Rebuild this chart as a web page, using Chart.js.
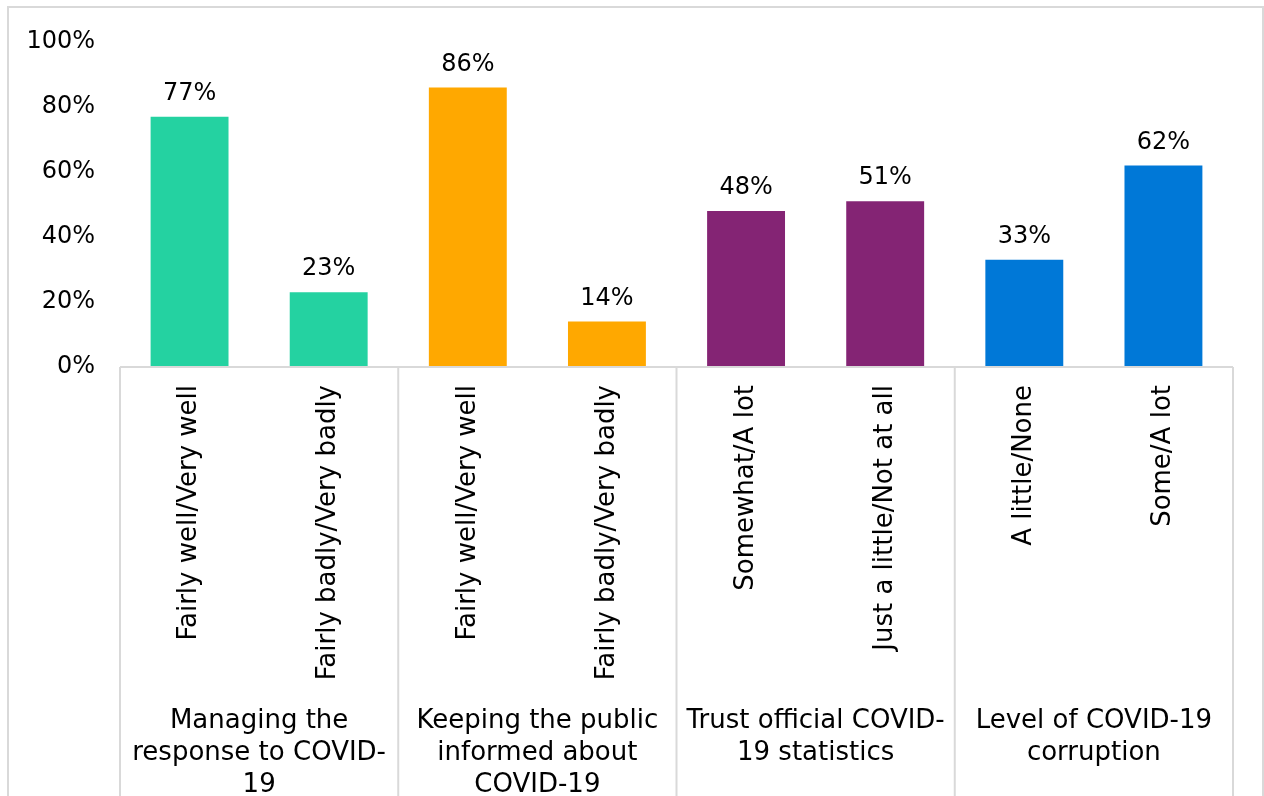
<!DOCTYPE html>
<html>
<head>
<meta charset="utf-8">
<script src="https://cdn.jsdelivr.net/npm/chart.js@4.4.1/dist/chart.umd.min.js"></script>
<style>
html, body { margin: 0; padding: 0; overflow: hidden; background: #fff; }
#frame { position: absolute; left: 7px; top: 6px; width: 1257px; height: 900px; border: 2px solid #d9d9d9; box-sizing: border-box; }
#wrap { position: absolute; left: 0; top: 0; }
</style>
</head>
<body>
<div id="frame"></div>
<div id="wrap"><canvas id="barChart" width="1264" height="830"></canvas></div>
<script>
// answer categories (one bar each)
var categories = [
    'Fairly well/Very well', 'Fairly badly/Very badly',
    'Fairly well/Very well', 'Fairly badly/Very badly',
    'Somewhat/A lot', 'Just a little/Not at all',
    'A little/None', 'Some/A lot'
];
var values = [77, 23, 86, 14, 48, 51, 33, 62];
var barColors = ['#24d2a1', '#24d2a1', '#ffa800', '#ffa800', '#842474', '#842474', '#0078d7', '#0078d7'];

// question groups, two bars per group, label split in lines like the original
var groupLabels = [
    ['Managing the', 'response to COVID-', '19'],
    ['Keeping the public', 'informed about', 'COVID-19'],
    ['Trust official COVID-', '19 statistics'],
    ['Level of COVID-19', 'corruption']
];
var groupSize = 2;
var yTicks = [0, 20, 40, 60, 80, 100];

var FONT = 'DejaVu Sans';
var lineColor = '#d9d9d9';

// value labels above bars
var valueLabels = {
    id: 'valueLabels',
    afterDatasetsDraw: function(chart) {
        var ctx = chart.ctx;
        var meta = chart.getDatasetMeta(0);
        ctx.save();
        ctx.font = '24px "' + FONT + '"';
        ctx.fillStyle = '#000';
        ctx.textAlign = 'center';
        ctx.textBaseline = 'alphabetic';
        meta.data.forEach(function(bar, i) {
            ctx.fillText(values[i] + '%', bar.x, bar.y - 17);
        });
        ctx.restore();
    }
};

// multi-level category axis: box lines + group names
var groupAxis = {
    id: 'groupAxis',
    afterDraw: function(chart) {
        var ctx = chart.ctx;
        var x = chart.scales.x;
        var area = chart.chartArea;
        var bottom = chart.height;
        ctx.save();
        ctx.strokeStyle = lineColor;
        ctx.lineWidth = 2;
        ctx.beginPath();
        ctx.moveTo(area.left, area.bottom);
        ctx.lineTo(area.right, area.bottom);
        var edges = [area.left];
        for (var g = 1; g < groupLabels.length; g++) {
            var i = g * groupSize;
            edges.push((x.getPixelForValue(i - 1) + x.getPixelForValue(i)) / 2);
        }
        edges.push(area.right);
        edges.forEach(function(ex) {
            ctx.moveTo(ex, area.bottom);
            ctx.lineTo(ex, bottom);
        });
        ctx.stroke();

        ctx.font = '26px "' + FONT + '"';
        ctx.fillStyle = '#000';
        ctx.textAlign = 'center';
        ctx.textBaseline = 'middle';
        groupLabels.forEach(function(lines, g) {
            var cx = (edges[g] + edges[g + 1]) / 2;
            lines.forEach(function(line, k) {
                ctx.fillText(line, cx, 721 + k * 32);
            });
        });
        ctx.restore();
    }
};

var ctx = document.getElementById('barChart').getContext('2d');
var myChart = new Chart(ctx, {
    type: 'bar',
    data: {
        labels: categories,
        datasets: [{
            data: values,
            backgroundColor: barColors,
            barPercentage: 0.56,
            categoryPercentage: 1
        }]
    },
    options: {
        responsive: false,
        animation: false,
        layout: { padding: { top: 42, right: 31, left: 0, bottom: 0 } },
        plugins: {
            legend: { display: false },
            tooltip: { enabled: false }
        },
        scales: {
            x: {
                grid: { display: false, drawTicks: false },
                border: { display: false },
                ticks: {
                    autoSkip: false,
                    minRotation: 90,
                    maxRotation: 90,
                    padding: 18,
                    color: '#000',
                    font: { family: FONT, size: 26 }
                },
                afterFit: function(scale) { scale.height = 463; }
            },
            y: {
                min: 0,
                max: 100,
                afterBuildTicks: function(scale) {
                    scale.ticks = yTicks.map(function(v) { return { value: v }; });
                },
                grid: { display: false, drawTicks: false },
                border: { display: false },
                ticks: {
                    padding: 25,
                    color: '#000',
                    font: { family: FONT, size: 24 },
                    callback: function(v) { return v + '%'; }
                },
                afterFit: function(scale) { scale.width = 120; }
            }
        }
    },
    plugins: [valueLabels, groupAxis]
});
</script>
</body>
</html>
